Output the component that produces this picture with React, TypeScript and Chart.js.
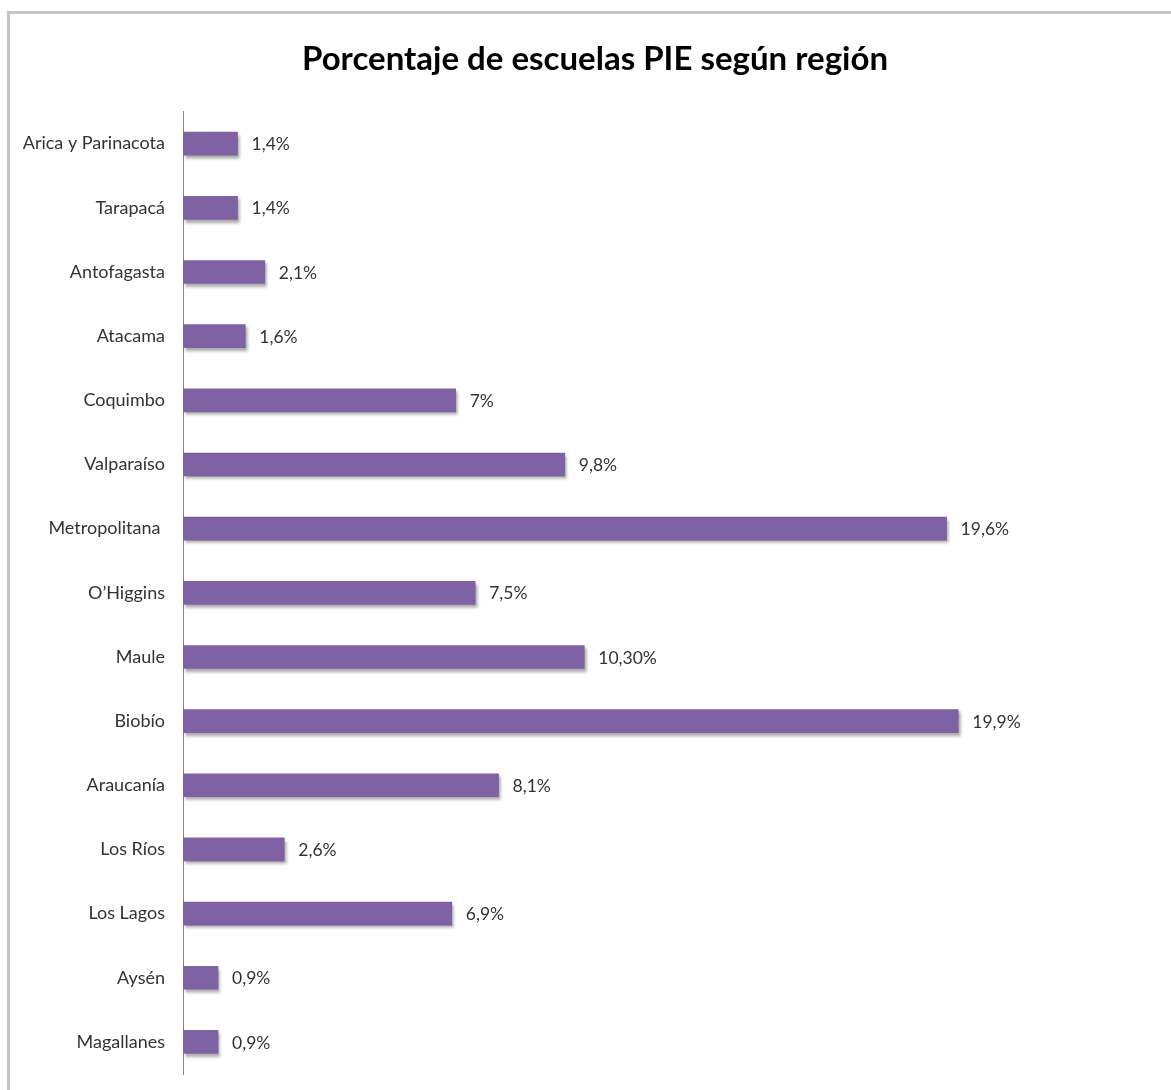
import React, { useEffect, useRef } from "react";
import { Chart, registerables } from "chart.js";

Chart.register(...registerables);

const TITLE = "Porcentaje de escuelas PIE según región";
const categories = [
  "Arica y Parinacota",
  "Tarapacá",
  "Antofagasta",
  "Atacama",
  "Coquimbo",
  "Valparaíso",
  "Metropolitana ",
  "O’Higgins",
  "Maule",
  "Biobío",
  "Araucanía",
  "Los Ríos",
  "Los Lagos",
  "Aysén",
  "Magallanes",
];
const values = [1.4, 1.4, 2.1, 1.6, 7, 9.8, 19.6, 7.5, 10.3, 19.9, 8.1, 2.6, 6.9, 0.9, 0.9];
const valueLabels = [
  "1,4%", "1,4%", "2,1%", "1,6%", "7%", "9,8%", "19,6%", "7,5%", "10,30%", "19,9%",
  "8,1%", "2,6%", "6,9%", "0,9%", "0,9%",
];

const FONT = "Lato, 'Open Sans', sans-serif";

const titleShiftPlugin = {
  id: "titleShift",
  afterLayout(chart: any) {
    if (chart.titleBlock) {
      chart.titleBlock.left = 33;
    }
  },
};

const shadowPlugin = {
  id: "barShadow",
  beforeDatasetsDraw(chart: any) {
    const ctx = chart.ctx;
    ctx.save();
    ctx.shadowColor = "rgba(0,0,0,0.35)";
    ctx.shadowOffsetX = 2;
    ctx.shadowOffsetY = 3;
    ctx.shadowBlur = 3;
  },
  afterDatasetsDraw(chart: any) {
    chart.ctx.restore();
  },
};

const labelPlugin = {
  id: "valueLabels",
  afterDraw(chart: any) {
    const ctx = chart.ctx;
    const meta = chart.getDatasetMeta(0);
    ctx.save();
    ctx.font = `17.5px ${FONT}`;
    ctx.fillStyle = "#333333";
    ctx.textAlign = "left";
    ctx.textBaseline = "middle";
    meta.data.forEach((bar: any, i: number) => {
      ctx.fillText(valueLabels[i], bar.x + 14, bar.y + 1);
    });
    ctx.restore();
  },
};

export default function App() {
  const ref = useRef<HTMLCanvasElement>(null);
  useEffect(() => {
    if (!ref.current) return;
    const chart = new Chart(ref.current, {
      type: "bar",
      data: {
        labels: categories,
        datasets: [
          {
            data: values,
            backgroundColor: "#7f62a3",
            borderWidth: 0,
            barThickness: 23,
          },
        ],
      },
      plugins: [titleShiftPlugin, shadowPlugin, labelPlugin],
      options: {
        indexAxis: "y",
        animation: false,
        responsive: false,
        maintainAspectRatio: false,
        layout: { padding: { top: 0, bottom: 16, right: 14, left: 0 } },
        plugins: {
          legend: { display: false },
          tooltip: { enabled: false },
          title: {
            display: true,
            text: TITLE,
            color: "#000000",
            font: { family: FONT, size: 33, weight: "bold" },
            padding: { top: 40, bottom: 32 },
          },
        },
        scales: {
          x: {
            display: false,
            min: 0,
            max: 25,
          },
          y: {
            grid: { display: false },
            border: { display: true, color: "#888888", width: 1 },
            ticks: {
              color: "#333333",
              font: { family: FONT, size: 18 },
              padding: 10,
            },
            afterFit(scale: any) {
              scale.width = 183;
              scale.paddingTop = 0;
              scale.paddingBottom = 0;
            },
          },
        },
      },
    });
    return () => chart.destroy();
  }, []);

  return (
    <div style={{ position: "fixed", left: 0, top: 0, width: 1171, height: 1090, background: "#fff", overflow: "hidden" }}>
      <div
        style={{
          position: "absolute",
          left: 7,
          top: 11,
          width: 1200,
          height: 1200,
          borderLeft: "3px solid #c4c4c4",
          borderTop: "3px solid #c4c4c4",
        }}
      />
      <canvas ref={ref} width={1171} height={1090} style={{ position: "absolute", left: 0, top: 0 }} />
    </div>
  );
}
